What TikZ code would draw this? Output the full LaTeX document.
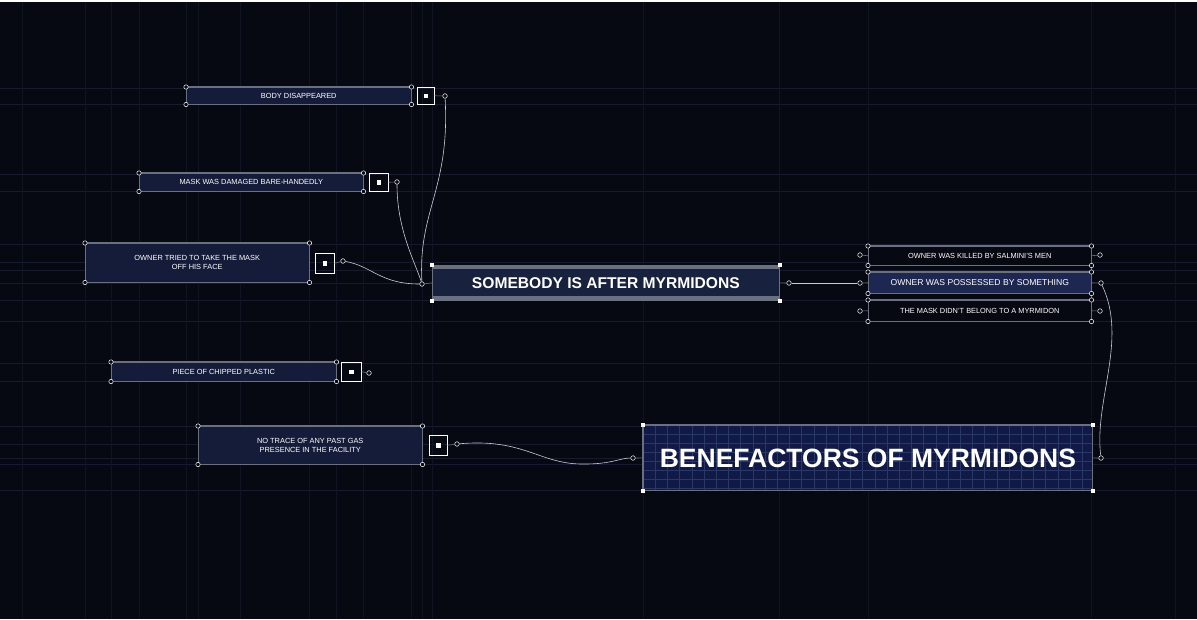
\documentclass[tikz,border=0pt]{standalone}
\usepackage{fontspec}
\setmainfont{Liberation Sans}
\usetikzlibrary{calc}
\definecolor{bg}{HTML}{070912}
\definecolor{boxfill}{HTML}{151C3A}
\definecolor{possfill}{HTML}{1D2752}
\definecolor{somfill}{HTML}{18223F}
\definecolor{benfill}{HTML}{111946}
\definecolor{edgecol}{HTML}{6A7080}
\definecolor{gridcol}{HTML}{2A3868}
\definecolor{bgh}{HTML}{161C2E}
\definecolor{bgv}{HTML}{0F1422}
\definecolor{wirecol}{HTML}{C8CCD6}
\tikzset{
  fact/.style={rectangle, fill=boxfill, draw=edgecol, line width=0.5pt, text=white!92,
    font=\fontsize{7.4}{8.8}\selectfont, align=center, inner sep=0pt, anchor=north west},
  darkfact/.style={fact, fill=bg},
  bigbox/.style={rectangle, draw=edgecol, line width=0.8pt, text=white, align=center,
    inner sep=0pt, anchor=north west},
  cnr/.style={circle, draw=white!75, fill=bg, line width=0.5pt, inner sep=0pt, minimum size=4.4pt},
  bcnr/.style={rectangle, fill=white, inner sep=0pt, minimum size=4.5pt},
  port/.style={circle, draw=white!70, fill=bg, line width=0.5pt, inner sep=0pt, minimum size=4.6pt},
  sqbox/.style={rectangle, draw=white!55, line width=0.5pt, inner sep=0pt, anchor=north west},
  dotw/.style={rectangle, fill=white, inner sep=0pt, minimum size=4.5pt},
  wire/.style={draw=wirecol, line width=0.6pt},
  link/.style={draw=edgecol, line width=0.6pt},
  edgeline/.style={draw=edgecol, line width=1.7pt}
}
\newcommand\boxcorners[1]{\foreach \a in {north west,north east,south west,south east}{\node[cnr] at (#1.\a) {};}}
\newcommand\bigcorners[1]{\foreach \a in {north west,north east,south west,south east}{\node[bcnr] at (#1.\a) {};}}
\newcommand\thickedges[1]{\draw[edgeline] (#1.north west) -- (#1.north east); \draw[edgeline] (#1.south west) -- (#1.south east);}
\begin{document}
\begin{tikzpicture}[x=1pt,y=-1pt]
\useasboundingbox (0,0) rectangle (1197,619);
\fill[bg] (0,0) rectangle (1197,619);
% faint background grid
\foreach \y in {88,104,174,191,244,262,270,283,300,321,363,381,426,444,458,464,490}
  \draw[bgh, line width=0.6pt] (0,\y) -- (1197,\y);
\foreach \x in {22,85,111,139,186,198,240,309,336,363,411,422,432,643,779,868,1091,1175}
  \draw[bgv, line width=0.6pt] (\x,0) -- (\x,619);
\draw[draw=white!55, line width=1.5pt] (0,0.8) -- (1197,0.8);

% ---------- left fact boxes ----------
\node[fact, minimum width=225pt, minimum height=17pt] (body) at (186,87) {BODY DISAPPEARED};
\thickedges{body}\boxcorners{body}
\node[sqbox, minimum width=17pt, minimum height=17pt] (bodysq) at (417,87) {};
\node[dotw] at (bodysq.center) {};
\node[port] (bodyout) at (445,96) {};
\draw[link] (bodysq.east) -- (bodyout);

\node[fact, minimum width=224pt, minimum height=18pt] (mask) at (139,173) {MASK WAS DAMAGED BARE-HANDEDLY};
\thickedges{mask}\boxcorners{mask}
\node[sqbox, minimum width=19pt, minimum height=18pt] (masksq) at (369,173) {};
\node[dotw] at (masksq.center) {};
\node[port] (maskout) at (397,182) {};
\draw[link] (masksq.east) -- (maskout);

\node[fact, minimum width=224pt, minimum height=39pt] (owner) at (85,243) {OWNER TRIED TO TAKE THE MASK\\OFF HIS FACE};
\thickedges{owner}\boxcorners{owner}
\node[sqbox, minimum width=19pt, minimum height=20pt] (ownersq) at (315,253) {};
\node[dotw] at (ownersq.center) {};
\node[port] (ownerout) at (343,261) {};
\draw[link] (ownersq.east) -- (ownerout);

\node[fact, minimum width=225pt, minimum height=19pt] (plastic) at (111,362) {PIECE OF CHIPPED PLASTIC};
\thickedges{plastic}\boxcorners{plastic}
\node[sqbox, minimum width=20pt, minimum height=19pt] (plasticsq) at (341,362) {};
\node[dotw] at (plasticsq.center) {};
\node[port] (plasticout) at (369,373) {};
\draw[link] (plasticsq.east) -- (plasticout);

\node[fact, minimum width=224pt, minimum height=38pt] (gas) at (198,426) {NO TRACE OF ANY PAST GAS\\PRESENCE IN THE FACILITY};
\thickedges{gas}\boxcorners{gas}
\node[sqbox, minimum width=18pt, minimum height=20pt] (gassq) at (429,435) {};
\node[dotw] at (gassq.center) {};
\node[port] (gasout) at (457,444) {};
\draw[link] (gassq.east) -- (gasout);

% ---------- SOMEBODY ----------
\node[bigbox, fill=somfill, minimum width=347pt, minimum height=35pt,
  font=\bfseries\fontsize{15.6}{17}\selectfont] (som) at (432,265) {SOMEBODY IS AFTER MYRMIDONS};
\draw[draw=edgecol, line width=3pt] ($(som.north west)+(0,2)$) -- ($(som.north east)+(0,2)$);
\draw[draw=edgecol, line width=4pt] ($(som.south west)+(0,-2.5)$) -- ($(som.south east)+(0,-2.5)$);
\bigcorners{som}
\node[port] (somin) at (422,284) {};
\node[port] (somout) at (789,283) {};
\draw[link] (somin) -- (som.west);
\draw[link] (som.east) -- (somout);

% ---------- right group ----------
\node[darkfact, minimum width=223pt, minimum height=19pt] (killed) at (868,246) {OWNER WAS KILLED BY SALMINI'S MEN};
\node[fact, fill=possfill, minimum width=223pt, minimum height=21pt, font=\fontsize{8.6}{10}\selectfont] (poss) at (868,272) {OWNER WAS POSSESSED BY SOMETHING};
\node[darkfact, minimum width=223pt, minimum height=21pt] (notmyr) at (868,300) {THE MASK DIDN'T BELONG TO A MYRMIDON};
\foreach \n in {killed,poss,notmyr}{\thickedges{\n}}
\draw[link] (killed.north east) -- (notmyr.south east);
\foreach \n in {killed,poss,notmyr}{\boxcorners{\n}}
\node[port] (killedin) at (860,255) {};
\node[port] (possin) at (860,283) {};
\node[port] (notmyrin) at (860,311) {};
\node[port] (killedout) at (1100,255) {};
\node[port] (possout) at (1101,283) {};
\node[port] (notmyrout) at (1100,311) {};
\draw[link] (killedin) -- (killed.west);
\draw[link] (possin) -- (poss.west);
\draw[link] (notmyrin) -- (notmyr.west);
\draw[link] (killed.east) -- (killedout);
\draw[link] (poss.east) -- (possout);
\draw[link] (notmyr.east) -- (notmyrout);

% ---------- BENEFACTORS ----------
\node[bigbox, fill=benfill, minimum width=449pt, minimum height=65pt] (ben) at (643,425) {};
\begin{scope}
  \clip (ben.north west) rectangle (ben.south east);
  \foreach \i in {0,...,37} \draw[gridcol, line width=0.5pt] ($(ben.north west)+(12.2*\i,0)$) -- ++(0,65);
  \foreach \j in {0,...,7} \draw[gridcol, line width=0.5pt] ($(ben.north west)+(0,9*\j)$) -- ++(449,0);
\end{scope}
\draw[draw=edgecol, line width=1.2pt] (ben.north west) rectangle (ben.south east);
\node[text=white, font=\bfseries\fontsize{26.5}{29}\selectfont, inner sep=0pt] (bentext) at (ben.center) {BENEFACTORS OF MYRMIDONS};
\bigcorners{ben}
\node[port] (benin) at (633,458) {};
\node[port] (benout) at (1101,458) {};
\draw[link] (benin) -- (ben.west);
\draw[link] (ben.east) -- (benout);

% ---------- connectors ----------
\draw[wire] (bodyout) .. controls (450,190) and (418,210) .. (somin);
\draw[wire] (maskout) .. controls (397,230) and (415,262) .. (somin);
\draw[wire] (ownerout) .. controls (372,266) and (380,284) .. (somin);
\draw[wire] (somout) -- (possin);
\draw[wire] (possout) .. controls (1128,340) and (1094,400) .. (benout);
\draw[wire] (gasout) .. controls (525,438) and (540,465) .. (585,464) .. controls (612,464) and (620,458) .. (benin);
\end{tikzpicture}
\end{document}
